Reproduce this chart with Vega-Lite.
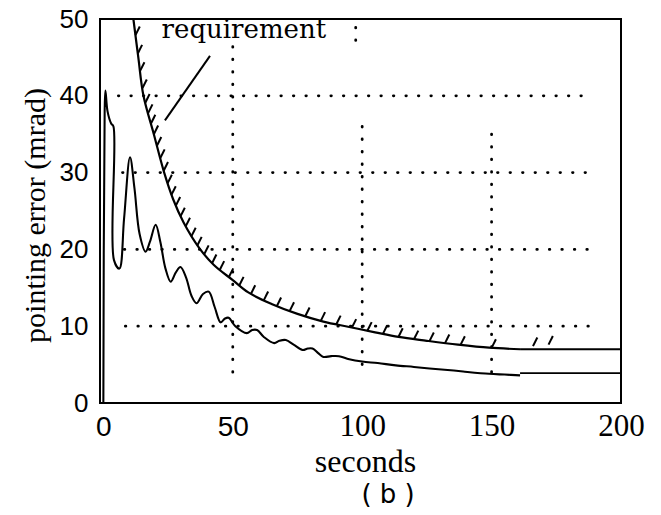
{
  "$schema": "https://vega.github.io/schema/vega-lite/v6.json",
  "autosize": "none",
  "width": 521,
  "height": 384,
  "padding": {"left": 100, "top": 19, "right": 40, "bottom": 112},
  "background": "white",
  "config": {
    "view": {"stroke": "black", "strokeWidth": 2},
    "axis": {"grid": false, "domain": false, "ticks": false, "tickSize": 0, "labelColor": "black", "titleColor": "black", "titleFontWeight": "normal"}
  },
  "datasets": {
    "curves": [
      {"s": "response", "i": 0, "t": 0, "v": 0},
      {"s": "response", "i": 1, "t": 0.5, "v": 38},
      {"s": "response", "i": 2, "t": 0.8, "v": 40.7},
      {"s": "response", "i": 3, "t": 1.6, "v": 38},
      {"s": "response", "i": 4, "t": 3.0, "v": 36.4},
      {"s": "response", "i": 5, "t": 3.9, "v": 36.0},
      {"s": "response", "i": 6, "t": 4.1, "v": 18.6},
      {"s": "response", "i": 7, "t": 6.2, "v": 17.5},
      {"s": "response", "i": 8, "t": 8, "v": 24},
      {"s": "response", "i": 9, "t": 10.3, "v": 32},
      {"s": "response", "i": 10, "t": 12, "v": 28},
      {"s": "response", "i": 11, "t": 14, "v": 22},
      {"s": "response", "i": 12, "t": 16.3, "v": 19.7},
      {"s": "response", "i": 13, "t": 18, "v": 21},
      {"s": "response", "i": 14, "t": 20.2, "v": 23.2},
      {"s": "response", "i": 15, "t": 22, "v": 21},
      {"s": "response", "i": 16, "t": 24, "v": 17.5},
      {"s": "response", "i": 17, "t": 26, "v": 15.8},
      {"s": "response", "i": 18, "t": 28, "v": 17},
      {"s": "response", "i": 19, "t": 29.8, "v": 17.7},
      {"s": "response", "i": 20, "t": 32, "v": 16.3},
      {"s": "response", "i": 21, "t": 34, "v": 14},
      {"s": "response", "i": 22, "t": 36, "v": 13},
      {"s": "response", "i": 23, "t": 38.5, "v": 14.2},
      {"s": "response", "i": 24, "t": 40.7, "v": 14.5},
      {"s": "response", "i": 25, "t": 43, "v": 12.5},
      {"s": "response", "i": 26, "t": 45.3, "v": 10.5},
      {"s": "response", "i": 27, "t": 47, "v": 11},
      {"s": "response", "i": 28, "t": 48.4, "v": 11.1},
      {"s": "response", "i": 29, "t": 51, "v": 10},
      {"s": "response", "i": 30, "t": 55.4, "v": 9.1},
      {"s": "response", "i": 31, "t": 57.5, "v": 9.5},
      {"s": "response", "i": 32, "t": 59.4, "v": 9.5},
      {"s": "response", "i": 33, "t": 62, "v": 8.6},
      {"s": "response", "i": 34, "t": 66, "v": 7.8},
      {"s": "response", "i": 35, "t": 68, "v": 8.1},
      {"s": "response", "i": 36, "t": 70.5, "v": 8.2},
      {"s": "response", "i": 37, "t": 73.5, "v": 7.6},
      {"s": "response", "i": 38, "t": 77, "v": 6.9},
      {"s": "response", "i": 39, "t": 79, "v": 7.1},
      {"s": "response", "i": 40, "t": 80.8, "v": 7.1},
      {"s": "response", "i": 41, "t": 83, "v": 6.5},
      {"s": "response", "i": 42, "t": 85, "v": 6.0},
      {"s": "response", "i": 43, "t": 88, "v": 6.1},
      {"s": "response", "i": 44, "t": 91, "v": 6.1},
      {"s": "response", "i": 45, "t": 95, "v": 5.7},
      {"s": "response", "i": 46, "t": 100, "v": 5.4},
      {"s": "response", "i": 47, "t": 106, "v": 5.2},
      {"s": "response", "i": 48, "t": 113, "v": 4.9},
      {"s": "response", "i": 49, "t": 120, "v": 4.7},
      {"s": "response", "i": 50, "t": 126, "v": 4.5},
      {"s": "response", "i": 51, "t": 133, "v": 4.3},
      {"s": "response", "i": 52, "t": 139, "v": 4.1},
      {"s": "response", "i": 53, "t": 149, "v": 3.8},
      {"s": "response", "i": 54, "t": 155, "v": 3.7},
      {"s": "response", "i": 55, "t": 161, "v": 3.6},
      {"s": "requirement", "i": 0, "t": 11.6, "v": 50},
      {"s": "requirement", "i": 1, "t": 13.5, "v": 45},
      {"s": "requirement", "i": 2, "t": 15.5, "v": 40},
      {"s": "requirement", "i": 3, "t": 19.5, "v": 35},
      {"s": "requirement", "i": 4, "t": 23.5, "v": 30},
      {"s": "requirement", "i": 5, "t": 27, "v": 26.5},
      {"s": "requirement", "i": 6, "t": 31, "v": 23.5},
      {"s": "requirement", "i": 7, "t": 37, "v": 20.2},
      {"s": "requirement", "i": 8, "t": 42.6, "v": 18},
      {"s": "requirement", "i": 9, "t": 50, "v": 16},
      {"s": "requirement", "i": 10, "t": 56, "v": 14.4},
      {"s": "requirement", "i": 11, "t": 65, "v": 12.9},
      {"s": "requirement", "i": 12, "t": 75, "v": 11.6},
      {"s": "requirement", "i": 13, "t": 85, "v": 10.6},
      {"s": "requirement", "i": 14, "t": 95, "v": 9.9},
      {"s": "requirement", "i": 15, "t": 105, "v": 9.2},
      {"s": "requirement", "i": 16, "t": 114, "v": 8.6},
      {"s": "requirement", "i": 17, "t": 125, "v": 8.1},
      {"s": "requirement", "i": 18, "t": 137, "v": 7.6},
      {"s": "requirement", "i": 19, "t": 149, "v": 7.2},
      {"s": "requirement", "i": 20, "t": 161, "v": 7.0},
      {"s": "req_ext", "i": 0, "t": 161, "v": 7.0},
      {"s": "req_ext", "i": 1, "t": 200, "v": 7.0},
      {"s": "resp_ext", "i": 0, "t": 161, "v": 3.9},
      {"s": "resp_ext", "i": 1, "t": 200, "v": 3.9}
    ],
    "grid": [
      {"x": 5.8, "x2": 188, "y": 40, "y2": 40},
      {"x": 7.4, "x2": 190, "y": 30, "y2": 30},
      {"x": 8.1, "x2": 188, "y": 20, "y2": 20},
      {"x": 8.5, "x2": 192, "y": 10, "y2": 10},
      {"x": 50, "x2": 50, "y": 46.4, "y2": 3.3},
      {"x": 100, "x2": 100, "y": 36, "y2": 3.5},
      {"x": 150, "x2": 150, "y": 35, "y2": 3.6},
      {"x": 97.5, "x2": 97.5, "y": 48.9, "y2": 47.0}
    ],
    "hatch": [
      {"t": 12.4, "v": 47.9}, {"t": 13.3, "v": 45.5}, {"t": 14.2, "v": 43.25}, {"t": 15.1, "v": 41},
      {"t": 16.2, "v": 39.1}, {"t": 17.3, "v": 37.75}, {"t": 18.4, "v": 36.4}, {"t": 19.5, "v": 35},
      {"t": 20.7, "v": 33.5}, {"t": 22, "v": 31.9}, {"t": 23.3, "v": 30.25}, {"t": 24.8, "v": 28.6},
      {"t": 26.3, "v": 27.1}, {"t": 28, "v": 25.7}, {"t": 29.8, "v": 24.3}, {"t": 31.8, "v": 23},
      {"t": 34, "v": 21.7}, {"t": 36.3, "v": 20.5}, {"t": 39, "v": 19.4}, {"t": 42, "v": 18.2},
      {"t": 45, "v": 17.35}, {"t": 48.5, "v": 16.4}, {"t": 52.5, "v": 15.3}, {"t": 57, "v": 14.2},
      {"t": 62, "v": 13.4}, {"t": 67, "v": 12.6}, {"t": 72, "v": 12.0}, {"t": 78, "v": 11.3},
      {"t": 84, "v": 10.7}, {"t": 90, "v": 10.25}, {"t": 96, "v": 9.8}, {"t": 102, "v": 9.4},
      {"t": 108, "v": 9.0}, {"t": 114, "v": 8.6}, {"t": 120, "v": 8.3}, {"t": 126, "v": 8.06},
      {"t": 132, "v": 7.8}, {"t": 138, "v": 7.57}, {"t": 150, "v": 7.18}, {"t": 166, "v": 7.4},
      {"t": 172, "v": 7.6}
    ],
    "pointer": [
      {"t": 41.2, "v": 45.2, "t2": 23.8, "v2": 36.8}
    ],
    "labels": [
      {"label": "requirement", "t": 22.5, "v": 47.5}
    ],
    "caption": [
      {"label": "( b )", "t": 110, "v": -13.0}
    ]
  },
  "layer": [
    {
      "data": {"name": "curves"},
      "mark": {"type": "line", "interpolate": "catmull-rom", "clip": true},
      "encoding": {
        "x": {
          "field": "t", "type": "quantitative",
          "scale": {"domain": [-1.3, 200], "nice": false, "zero": false},
          "axis": {
            "values": [0, 50, 100, 150, 200],
            "title": "seconds",
            "labelFont": {"condition": {"test": "datum.value >= 100", "value": "Liberation Serif"}, "value": "Liberation Sans"},
            "labelFontSize": {"condition": {"test": "datum.value >= 100", "value": 31}, "value": 28},
            "labelBaseline": "alphabetic",
            "labelPadding": 32,
            "labelFlush": false,
            "labelOverlap": false,
            "titleFont": "Liberation Serif",
            "titleFontSize": 32,
            "titleBaseline": "alphabetic",
            "titleX": 265,
            "titleY": 68
          }
        },
        "y": {
          "field": "v", "type": "quantitative",
          "scale": {"domain": [0, 50], "nice": false, "zero": false},
          "axis": {
            "values": [0, 10, 20, 30, 40, 50],
            "title": "pointing error (mrad)",
            "labelFont": "Liberation Sans",
            "labelFontSize": 26,
            "labelPadding": 12,
            "labelFlush": false,
            "labelOverlap": false,
            "titleFont": "Liberation Serif",
            "titleFontSize": 30,
            "titleAngle": -90,
            "titleAlign": "center",
            "titleBaseline": "alphabetic",
            "titleX": -56,
            "titleY": 196
          }
        },
        "detail": {"field": "s", "type": "nominal"},
        "order": {"field": "i", "type": "quantitative"},
        "color": {"value": "black"},
        "strokeWidth": {
          "field": "s", "type": "nominal", "legend": null,
          "scale": {"domain": ["requirement", "response", "req_ext", "resp_ext"], "range": [2.2, 1.8, 3, 2]}
        }
      }
    },
    {
      "data": {"name": "grid"},
      "mark": {"type": "rule", "color": "black", "strokeWidth": 2.8, "strokeDash": [0.5, 12], "strokeCap": "round"},
      "encoding": {
        "x": {"field": "x", "type": "quantitative"},
        "x2": {"field": "x2"},
        "y": {"field": "y", "type": "quantitative"},
        "y2": {"field": "y2"}
      }
    },
    {
      "data": {"name": "hatch"},
      "mark": {"type": "point", "shape": "M0,0L0.5,-1", "filled": false, "stroke": "black", "strokeWidth": 2, "size": 300, "opacity": 1},
      "encoding": {
        "x": {"field": "t", "type": "quantitative"},
        "y": {"field": "v", "type": "quantitative"}
      }
    },
    {
      "data": {"name": "pointer"},
      "mark": {"type": "rule", "color": "black", "strokeWidth": 2},
      "encoding": {
        "x": {"field": "t", "type": "quantitative"},
        "x2": {"field": "t2"},
        "y": {"field": "v", "type": "quantitative"},
        "y2": {"field": "v2"}
      }
    },
    {
      "data": {"name": "labels"},
      "mark": {"type": "text", "font": "DejaVu Serif", "fontSize": 26, "align": "left", "baseline": "alphabetic", "color": "black"},
      "encoding": {
        "x": {"field": "t", "type": "quantitative"},
        "y": {"field": "v", "type": "quantitative"},
        "text": {"field": "label"}
      }
    },
    {
      "data": {"name": "caption"},
      "mark": {"type": "text", "font": "DejaVu Sans", "fontSize": 26, "align": "center", "baseline": "alphabetic", "color": "black"},
      "encoding": {
        "x": {"field": "t", "type": "quantitative"},
        "y": {"field": "v", "type": "quantitative"},
        "text": {"field": "label"}
      }
    }
  ]
}
